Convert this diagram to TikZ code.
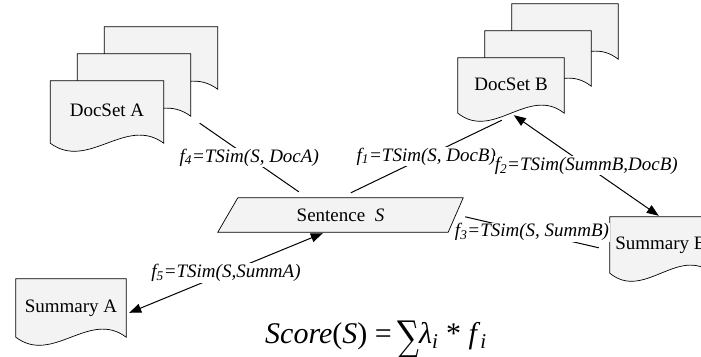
\documentclass[tikz,border=0pt]{standalone}
\usepackage{fontspec}
\setmainfont{Liberation Serif}
\newfontfamily\sumfont{DejaVu Serif}
\usetikzlibrary{arrows.meta}
\usetikzlibrary{backgrounds}
\usetikzlibrary{calc}
\definecolor{docgray}{HTML}{F3F3F3}

% wavy document outline round a named node
\newcommand{\docwave}[1]{%
  \filldraw[docline] (#1.north west) -- (#1.north east) -- (#1.south east)
    .. controls ($(#1.south east)!1/3!(#1.south west)+(0,-28)$) and ($(#1.south east)!2/3!(#1.south west)+(0,28)$) .. (#1.south west) -- cycle;}

\begin{document}
\begin{tikzpicture}[x=1pt, y=-1pt, every node/.style={font=\fontsize{19}{22}\selectfont},
	  docline/.style={fill=docgray, draw=black, line width=0.7pt},
	  docnode/.style={rectangle, inner sep=0pt, minimum width=113pt, minimum height=62pt},
	  flabel/.style={fill=white, inner sep=1pt, font=\fontsize{19}{22}\selectfont\itshape},
	  formula/.style={inner sep=0pt, font=\fontsize{30}{34}\selectfont},
	  link/.style={draw, line width=1pt},
	  both/.style={{Triangle[length=12pt,width=9pt]}-{Triangle[length=12pt,width=9pt]}}]
	  \useasboundingbox (0,0) rectangle (701,356);
	  \clip (0,0) rectangle (701,356);
	  % document stacks
	  \node[docnode] (docA1) at (107,112) {\raisebox{3pt}{DocSet A}};
	  \node[docnode] (docA2) at ([shift={(27,-27)}]docA1.center) {};
	  \node[docnode] (docA3) at ([shift={(27,-27)}]docA2.center) {};
	  \node[docnode, minimum width=106pt, minimum height=55pt] (docB1) at (511,85.5) {\raisebox{2pt}{DocSet B}};
	  \node[docnode, minimum width=106pt, minimum height=55pt] (docB2) at ([shift={(27,-27)}]docB1.center) {};
	  \node[docnode, minimum width=106pt, minimum height=55pt] (docB3) at ([shift={(27,-27)}]docB2.center) {};
	  \node[docnode, minimum width=110pt, minimum height=58pt] (summA) at (71,308) {\raisebox{2pt}{Summary A}};
	  \node[docnode, minimum width=102pt, minimum height=56pt] (summB) at (661,245) {Summary B};
	  \node[rectangle, inner sep=0pt, minimum width=245pt, minimum height=34pt] (sent) at (340.5,215) {Sentence\ \ \textit{S}};
	  % score formula
	  \node[formula, anchor=base east] (scoreL) at (392,343) {\textit{Score}(\textit{S}) =};
	  \begin{scope}[shift={(397,351)}, xscale=0.9, yscale=1.25]
	    \node[formula, anchor=base west, transform shape, font=\sumfont\fontsize{34}{34}\selectfont] (sigma) at (0,0) {∑};
	  \end{scope}
	  \node[formula, anchor=base west] (scoreR) at (419,343) {\textit{λ}\textsubscript{\textit{i}} * \textit{f}\textsubscript{\textit{i}}};
%
	  \begin{scope}[on background layer]
	    \docwave{docA3} \docwave{docA2} \docwave{docA1}
	    \docwave{docB3} \docwave{docB2} \docwave{docB1}
	    \docwave{summA} \docwave{summB}
	    \filldraw[docline] (sent.south west) -- ([xshift=-15]sent.south east) -- (sent.north east) -- ([xshift=20]sent.north west) -- cycle;
	  \end{scope}
%
	  \path[link]
	    ([shift={(9,7)}]docA2.south east) edge node[flabel] {f\textsubscript{4}=TSim(S, DocA)} ([shift={(81,-6)}]sent.north west)
	    ([shift={(133,-5)}]sent.north west) edge node[flabel] {f\textsubscript{1}=TSim(S, DocB)} ([shift={(44,7)}]docB1.south west)
	    ([shift={(2,19)}]sent.north east) edge node[flabel] {f\textsubscript{3}=TSim(S, SummB)} ([shift={(-11,31)}]summB.north west)
	    ([shift={(56,2)}]docB1.south west) edge[both] node[flabel] {f\textsubscript{2}=TSim(SummB,DocB)} ([shift={(49,-1)}]summB.north west)
	    ([shift={(3,34)}]summA.north east) edge[both] node[flabel] {f\textsubscript{5}=TSim(S,SummA)} ([shift={(105,1)}]sent.south west);
\end{tikzpicture}
\end{document}
